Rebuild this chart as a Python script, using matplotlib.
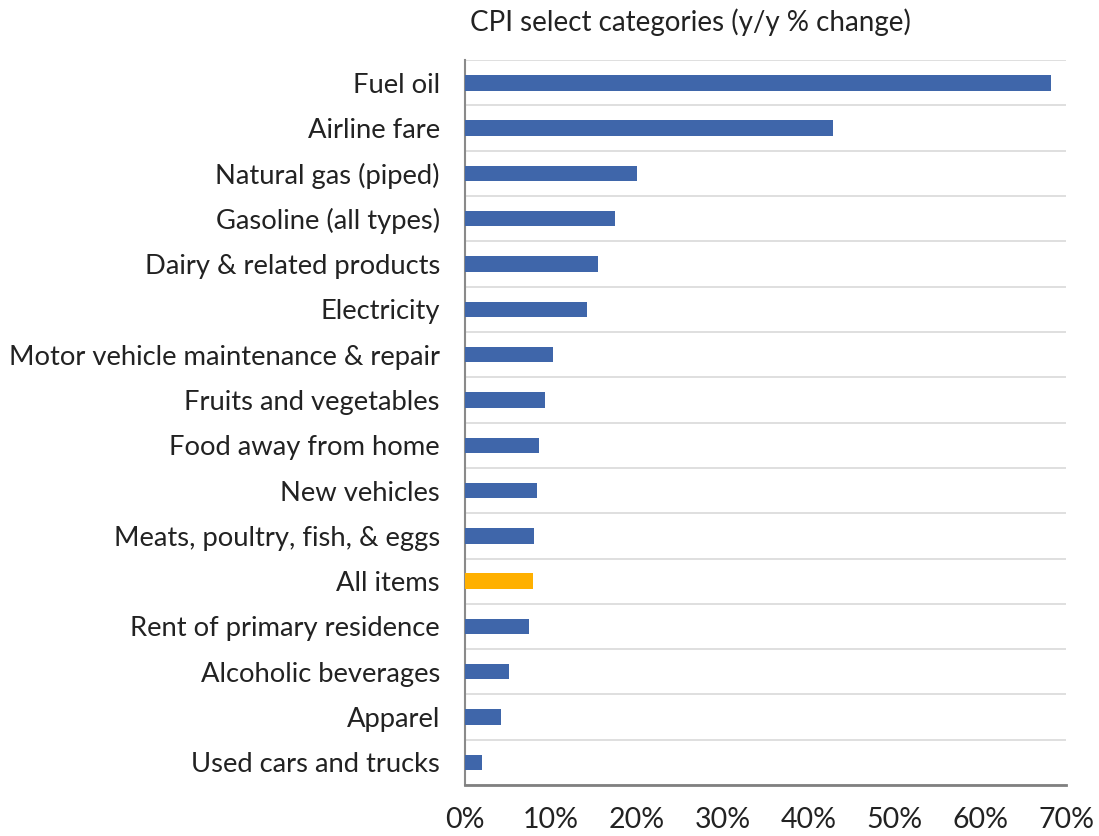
import matplotlib.pyplot as plt
import numpy as np

plt.rcParams['font.family'] = ['Lato', 'DejaVu Sans']

# CPI categories, top to bottom, and y/y % change
categories = ["Fuel oil", "Airline fare", "Natural gas (piped)",
              "Gasoline (all types)", "Dairy & related products", "Electricity",
              "Motor vehicle maintenance & repair", "Fruits and vegetables",
              "Food away from home", "New vehicles",
              "Meats, poultry, fish, & eggs", "All items",
              "Rent of primary residence", "Alcoholic beverages", "Apparel",
              "Used cars and trucks"]
changes = [68.3, 42.9, 20.0, 17.5, 15.5, 14.2, 10.3, 9.3, 8.6, 8.4, 8.0, 7.9,
           7.5, 5.1, 4.2, 2.0]
xticks = [0, 10, 20, 30, 40, 50, 60, 70]

blue = '#3F66AA'
orange = '#FFB000'
colors = [orange if c == "All items" else blue for c in categories]

fig = plt.figure(figsize=(10.99, 8.36), dpi=100)
ax = fig.add_axes([0.423, 0.061, 0.547, 0.867])

ypos = np.arange(len(categories))
ax.barh(ypos, changes, height=0.34, color=colors, zorder=3)

ax.set_ylim(len(categories) - 0.5, -0.5)
ax.set_xlim(0, 70)
ax.set_yticks(ypos)
ax.set_yticklabels(categories, fontsize=19.7, color='#222222')
ax.set_xticks(xticks)
ax.set_xticklabels([f"{t}%" for t in xticks], fontsize=20.5, color='#222222')
ax.tick_params(axis='both', length=0)
ax.tick_params(axis='x', pad=16)
ax.tick_params(axis='y', pad=18)

# horizontal separators between categories
ax.set_yticks(np.arange(-0.5, len(categories), 1), minor=True)
ax.tick_params(axis='y', which='minor', length=0)
ax.grid(True, axis='y', which='minor', color='#D9D9D9', linewidth=1.2, zorder=0)
ax.grid(False, axis='y', which='major')

for s in ['top', 'right']:
    ax.spines[s].set_visible(False)
ax.spines['left'].set_color('#8A8A8A')
ax.spines['left'].set_linewidth(1.5)
ax.spines['bottom'].set_color('#808080')
ax.spines['bottom'].set_linewidth(2)

fig.text(0.628, 0.973, "CPI select categories (y/y % change)", fontsize=20,
         ha='center', va='center', color='#222222')

fig.savefig('out.png', dpi=100, facecolor='white')
